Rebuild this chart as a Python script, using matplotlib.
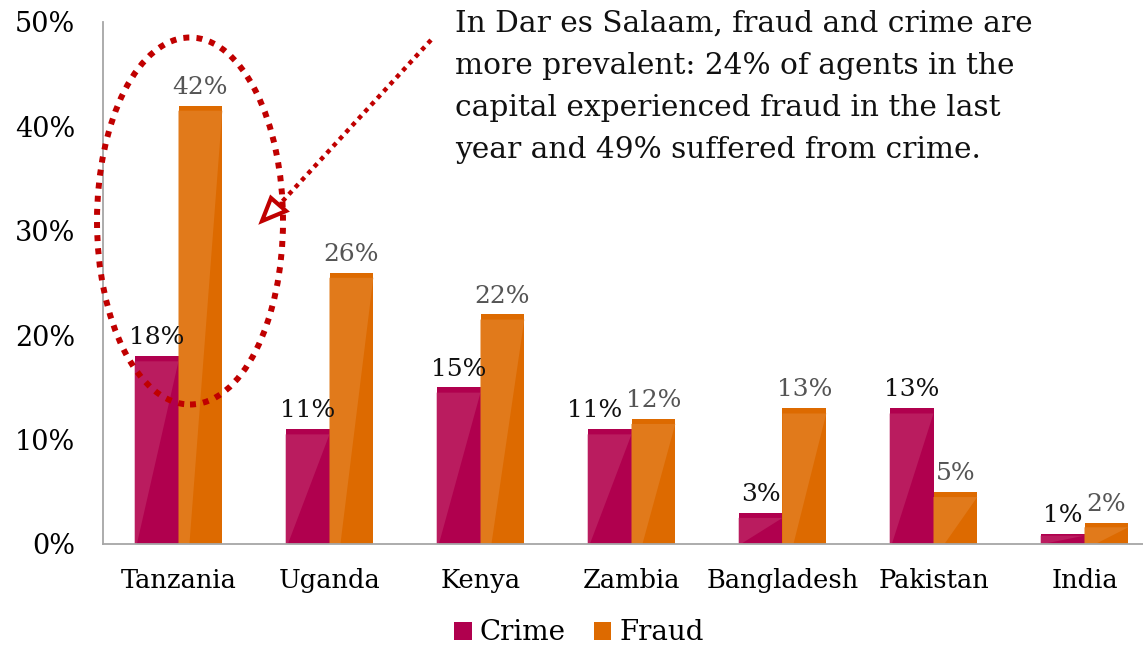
import matplotlib
matplotlib.use("Agg")
import matplotlib.pyplot as plt
from matplotlib.patches import Ellipse, Polygon
from matplotlib.lines import Line2D
import numpy as np

countries = ["Tanzania", "Uganda", "Kenya", "Zambia", "Bangladesh", "Pakistan", "India"]
crime = [18, 11, 15, 11, 3, 13, 1]
fraud = [42, 26, 22, 12, 13, 5, 2]
yticks = [0, 10, 20, 30, 40, 50]
note = ("In Dar es Salaam, fraud and crime are\n"
        "more prevalent: 24% of agents in the\n"
        "capital experienced fraud in the last\n"
        "year and 49% suffered from crime.")

FONT = "DejaVu Serif"
plt.rcParams["font.family"] = [FONT]

W, H = 1143, 646
fig = plt.figure(figsize=(W / 100, H / 100), dpi=100)
ax = fig.add_axes([103 / W, (H - 544) / H, (1160 - 103) / W, (544 - 22) / H])

x = np.arange(len(countries))
bw = 0.29
c_crime, c_crime_hi = "#B0004E", "#BA1C5F"
c_fraud, c_fraud_hi = "#DD6A00", "#E17A1B"

b1 = ax.bar(x - bw / 2, crime, bw, color=c_crime, label="Crime", zorder=2)
b2 = ax.bar(x + bw / 2, fraud, bw, color=c_fraud, label="Fraud", zorder=2)

# glossy lighter overlay on each bar (thin darker band kept at the top)
for bars, hi, off in ((b1, c_crime_hi, 0.05), (b2, c_fraud_hi, 0.25)):
    for r in bars:
        x0, w, h = r.get_x(), r.get_width(), r.get_height()
        top = h - min(0.5, 0.2 * h)
        poly = Polygon([(x0, 0), (x0, top), (x0 + w, top), (x0 + off * w, 0)],
                       closed=True, color=hi, lw=0, zorder=2.5)
        ax.add_patch(poly)

# manual label nudges (in points), as in the original slide
nudge_crime = {3: -11}

for i, (r, v) in enumerate(zip(b1, crime)):
    ax.annotate(f"{v}%", (r.get_x() + r.get_width() / 2, v),
                xytext=(nudge_crime.get(i, 0), 8.5),
                textcoords="offset points", ha="center", va="baseline",
                fontsize=18, color="#111111", zorder=4)
for r, v in zip(b2, fraud):
    ax.annotate(f"{v}%", (r.get_x() + r.get_width() / 2, v), xytext=(0, 8.5),
                textcoords="offset points", ha="center", va="baseline",
                fontsize=18, color="#555555", zorder=4)

ax.set_xlim(-0.5, len(countries) - 0.5)
ax.set_ylim(0, 50)
ax.set_yticks(yticks)
ax.set_yticklabels([f"{t}%" for t in yticks], fontsize=19.5)
ax.set_xticks(x)
ax.set_xticklabels(countries, fontsize=18.5)
ax.tick_params(axis="both", length=0)
ax.tick_params(axis="x", pad=17)
ax.tick_params(axis="y", pad=20)
for s in ("top", "right"):
    ax.spines[s].set_visible(False)
for s in ("left", "bottom"):
    ax.spines[s].set_color("#A6A6A6")
    ax.spines[s].set_linewidth(1.3)

fig.legend(handles=[b1, b2], labels=["Crime", "Fraud"], loc="center",
           bbox_to_anchor=(579 / W, 1 - 633 / H), ncol=2, frameon=False,
           fontsize=20, handlelength=0.62, handleheight=0.62, handletextpad=0.3,
           columnspacing=1.0)

# annotation text
fig.text(455 / W, 1 - 10 / H, note, ha="left", va="top", fontsize=21.3,
         linespacing=1.63, color="#111111")

# dotted ellipse
ell = Ellipse((190 / W, 1 - 221 / H), 186 / W, 367 / H, transform=fig.transFigure,
              fill=False, ec="#C00000", lw=4.3, ls=(0, (1, 1.2)), zorder=5)
fig.add_artist(ell)


def fx(px):
    return px / W


def fy(py):
    return 1 - py / H


# dotted arrow line + head
fig.add_artist(Line2D([fx(431), fx(280)], [fy(40), fy(204)], transform=fig.transFigure,
                      color="#C00000", lw=3.2, ls=(0, (1, 1.1)), zorder=6))
head = Polygon([(fx(262), fy(221)), (fx(271), fy(198)), (fx(286), fy(211))],
               closed=True, transform=fig.transFigure, fc="white", ec="#C00000",
               lw=3, zorder=6)
fig.add_artist(head)

fig.savefig("out.png", dpi=100)
